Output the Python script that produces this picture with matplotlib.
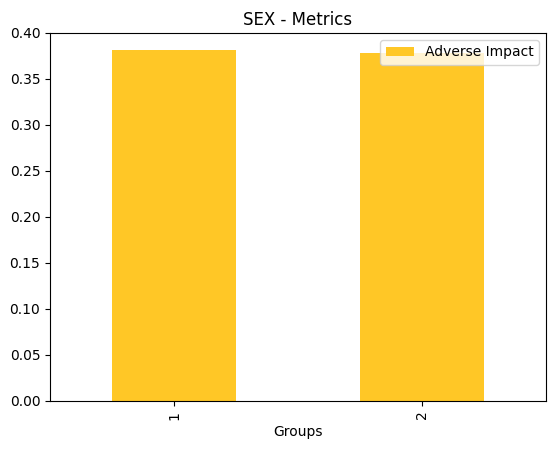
import matplotlib
matplotlib.use("Agg")
import matplotlib.pyplot as plt
import pandas as pd

groups = ["1", "2"]
adverse_impact = [0.381, 0.378]

df = pd.DataFrame({"Adverse Impact": adverse_impact}, index=groups)

fig, ax = plt.subplots(figsize=(5.56, 4.5), dpi=100)
df.plot(kind="bar", ax=ax, color="#ffc726")
ax.set_title("SEX - Metrics")
ax.set_xlabel("Groups")
ax.set_ylim(0, 0.40)
ax.legend(loc="upper right")
fig.subplots_adjust(left=0.09, right=0.982, top=0.927, bottom=0.109)
fig.savefig("out.png")
